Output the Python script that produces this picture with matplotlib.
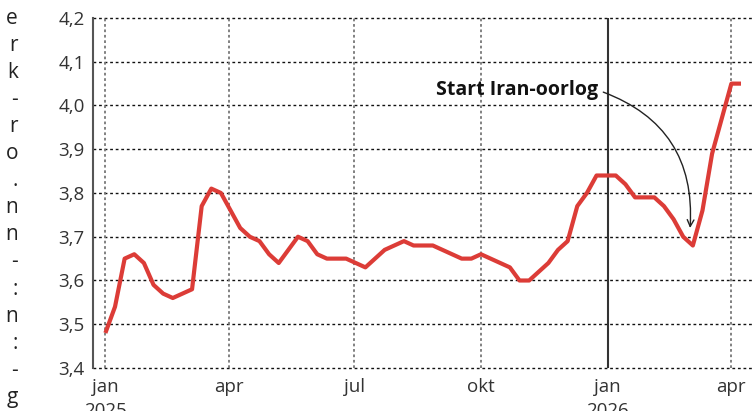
import matplotlib
matplotlib.use("Agg")
import matplotlib.pyplot as plt
import numpy as np
import pandas as pd

# ---- data ----
start_date = "2025-01-01"
values = [3.48, 3.54, 3.65, 3.66, 3.64, 3.59, 3.57, 3.56, 3.57, 3.58,
          3.77, 3.81, 3.80, 3.76, 3.72, 3.70, 3.69, 3.66, 3.64, 3.67,
          3.70, 3.69, 3.66, 3.65, 3.65, 3.65, 3.64, 3.63, 3.65, 3.67,
          3.68, 3.69, 3.68, 3.68, 3.68, 3.67, 3.66, 3.65, 3.65, 3.66,
          3.65, 3.64, 3.63, 3.60, 3.60, 3.62, 3.64, 3.67, 3.69, 3.77,
          3.80, 3.84, 3.84, 3.84, 3.82, 3.79, 3.79, 3.79, 3.77, 3.74,
          3.70, 3.68, 3.76, 3.89, 3.97, 4.05, 4.05]
tick_dates = ["2025-01-01", "2025-04-01", "2025-07-01", "2025-10-01",
              "2026-01-01", "2026-04-01"]
tick_labels = ["jan\n2025", "apr", "jul", "okt", "jan\n2026", "apr"]
year_tick = "2026-01-01"
yticks = [3.4, 3.5, 3.6, 3.7, 3.8, 3.9, 4.0, 4.1, 4.2]
annot_text = "Start Iran-oorlog"
annot_xy = ("2026-03-02", 3.72)
annot_xytext = ("2025-12-25", 4.035)
side_fragments = ['e', 'r', 'k', '-', 'r', 'o', '.', 'n', 'n', '-', ':', 'n', ':', '-', 'g']

dates = pd.date_range(start_date, periods=len(values), freq="7D")

plt.rcParams['font.family'] = ['Open Sans', 'DejaVu Sans']

W, H = 752, 411
fig = plt.figure(figsize=(W / 100, H / 100), dpi=100)
ax = fig.add_axes([93 / W, (H - 368) / H, 1 - 93 / W, (368 - 18) / H])

ax.set_xlim(pd.Timestamp("2024-12-23"), pd.Timestamp("2026-04-16"))
ax.set_ylim(3.4, 4.2)

for s in ["top", "right", "bottom"]:
    ax.spines[s].set_visible(False)
ax.spines["left"].set_color("#555555")
ax.spines["left"].set_linewidth(1.5)

# grid
for y in yticks:
    ax.axhline(y, color="#111111", lw=1.0, ls=(0, (2, 2)), zorder=1, clip_on=False)
for d in tick_dates:
    if d == year_tick:
        ax.axvline(pd.Timestamp(d), color="#333333", lw=1.5, zorder=1)
    else:
        ax.axvline(pd.Timestamp(d), color="#777777", lw=1.3, ls=(0, (1.5, 1.5)), zorder=1)

ax.plot(dates, values, color="#dc3c37", lw=3.0, solid_joinstyle="round",
        solid_capstyle="butt", zorder=3)

ax.set_yticks(yticks)
ax.set_yticklabels([f"{v:.1f}".replace(".", ",") for v in yticks])
ax.set_xticks([pd.Timestamp(d) for d in tick_dates])
ax.set_xticklabels(tick_labels, linespacing=1.45)
ax.tick_params(axis="y", length=0, pad=6, labelsize=13.5, labelcolor="#333333")
ax.tick_params(axis="x", length=0, pad=7, labelsize=13.5, labelcolor="#333333")

ax.annotate(annot_text,
            xy=(pd.Timestamp(annot_xy[0]), annot_xy[1]),
            xytext=(pd.Timestamp(annot_xytext[0]), annot_xytext[1]),
            ha="right", va="center", fontsize=14, fontweight="bold", color="#111111",
            arrowprops=dict(arrowstyle="->", color="#222222", lw=1.0,
                            connectionstyle="arc3,rad=-0.38",
                            relpos=(1.0, 0.5), shrinkA=2, shrinkB=0,
                            mutation_scale=12),
            zorder=5)

# cut-off side text fragments
for i, frag in enumerate(side_fragments):
    fig.text(18 / W, 1 - (18 + 27.1 * i) / H, frag, ha="right", va="center",
             fontsize=15, color="#222222")

fig.savefig("out.png", dpi=100)
